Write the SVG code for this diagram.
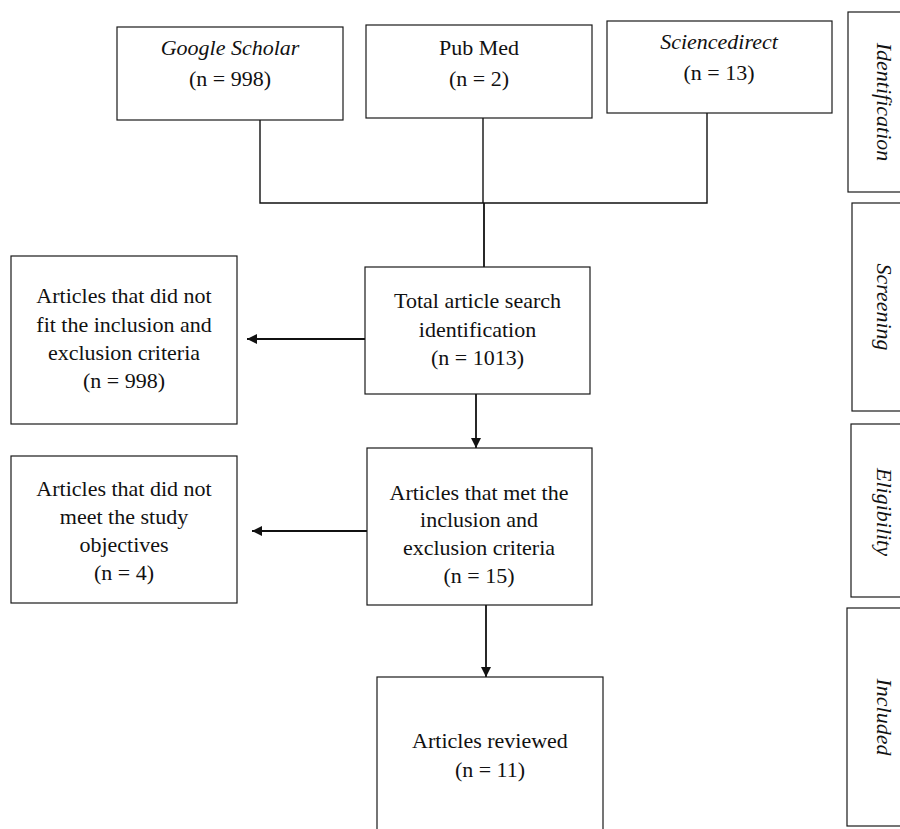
<svg xmlns="http://www.w3.org/2000/svg" width="900" height="829" viewBox="0 0 900 829">
<style>
.box{fill:#fff;stroke:#1a1a1a;stroke-width:1.2}
.t{font-family:"Liberation Serif","Times New Roman",serif;font-size:22px;fill:#111;text-anchor:middle}
.i{font-style:italic}
.c{fill:none;stroke:#111;stroke-width:1.4}
</style>
<defs>
<marker id="ah" viewBox="0 0 10 10" refX="10" refY="5" markerWidth="10" markerHeight="10" markerUnits="userSpaceOnUse" orient="auto">
<path d="M0,0 L10,5 L0,10 Z" fill="#111"/>
</marker>
</defs>
<rect width="900" height="829" fill="#fff"/>
<g id="connectors">
<polyline class="c" points="260,115 260,203 707,203 707,113"/>
<line class="c" x1="483" y1="118" x2="483" y2="203"/>
<line class="c" x1="484" y1="203" x2="484" y2="267" style="stroke-width:1.8"/>
<line class="c" x1="365" y1="339" x2="247" y2="339" marker-end="url(#ah)" style="stroke-width:1.8"/>
<line class="c" x1="476" y1="394" x2="476" y2="448" marker-end="url(#ah)" style="stroke-width:1.8"/>
<line class="c" x1="367" y1="531" x2="252" y2="531" marker-end="url(#ah)" style="stroke-width:1.8"/>
<line class="c" x1="486" y1="605" x2="486" y2="677" marker-end="url(#ah)" style="stroke-width:1.8"/>
</g>
<g id="google">
<rect class="box" x="117" y="27" width="226" height="93"/>
<text class="t i" x="230" y="55">Google Scholar</text>
<text class="t" x="230" y="86">(n = 998)</text>
</g>
<g id="pubmed">
<rect class="box" x="366" y="25" width="226" height="93"/>
<text class="t" x="479" y="55">Pub Med</text>
<text class="t" x="479" y="86">(n = 2)</text>
</g>
<g id="sciencedirect">
<rect class="box" x="607" y="21" width="225" height="92"/>
<text class="t i" x="719" y="49">Sciencedirect</text>
<text class="t" x="719" y="80">(n = 13)</text>
</g>
<g id="total">
<rect class="box" x="365" y="267" width="225" height="127"/>
<text class="t" x="477.5" y="308">Total article search</text>
<text class="t" x="477.5" y="337">identification</text>
<text class="t" x="477.5" y="365">(n = 1013)</text>
</g>
<g id="excluded1">
<rect class="box" x="11" y="256" width="226" height="168"/>
<text class="t" x="124" y="303">Articles that did not</text>
<text class="t" x="124" y="332">fit the inclusion and</text>
<text class="t" x="124" y="360">exclusion criteria</text>
<text class="t" x="124" y="388">(n = 998)</text>
</g>
<g id="met">
<rect class="box" x="367" y="448" width="225" height="157"/>
<text class="t" x="479" y="500">Articles that met the</text>
<text class="t" x="479" y="527">inclusion and</text>
<text class="t" x="479" y="555">exclusion criteria</text>
<text class="t" x="479" y="583">(n = 15)</text>
</g>
<g id="excluded2">
<rect class="box" x="11" y="456" width="226" height="147"/>
<text class="t" x="124" y="496">Articles that did not</text>
<text class="t" x="124" y="524">meet the study</text>
<text class="t" x="124" y="552">objectives</text>
<text class="t" x="124" y="580">(n = 4)</text>
</g>
<g id="reviewed">
<rect class="box" x="377" y="677" width="226" height="180"/>
<text class="t" x="490" y="748">Articles reviewed</text>
<text class="t" x="490" y="777">(n = 11)</text>
</g>
<g id="stage-identification">
<rect class="box" x="848" y="12" width="70" height="180"/>
<text class="t i" transform="translate(877,102) rotate(90)">Identification</text>
</g>
<g id="stage-screening">
<rect class="box" x="852" y="203" width="70" height="208"/>
<text class="t i" transform="translate(877,307) rotate(90)">Screening</text>
</g>
<g id="stage-eligibility">
<rect class="box" x="851" y="424" width="70" height="173"/>
<text class="t i" transform="translate(877,512) rotate(90)">Eligibility</text>
</g>
<g id="stage-included">
<rect class="box" x="847" y="608" width="70" height="218"/>
<text class="t i" transform="translate(877,717) rotate(90)">Included</text>
</g>
</svg>
